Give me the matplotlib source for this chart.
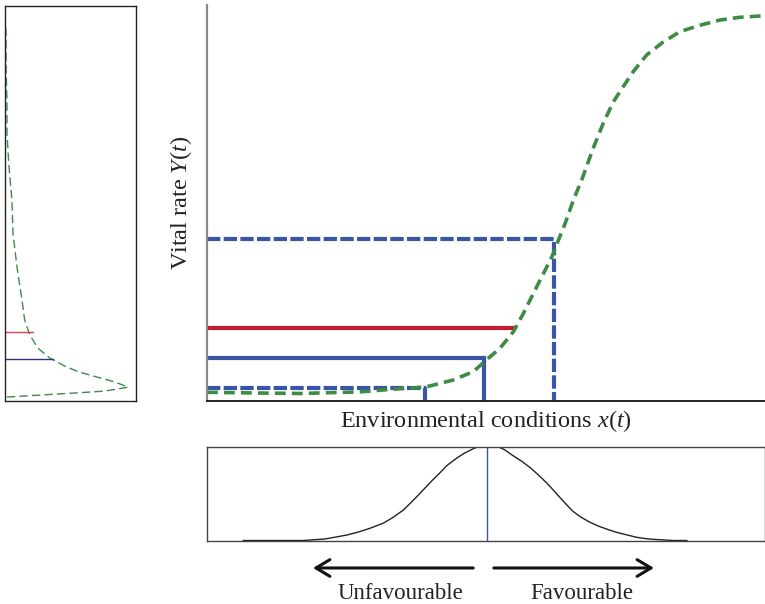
import numpy as np
import matplotlib.pyplot as plt

plt.rcParams['font.family'] = ['Liberation Serif', 'DejaVu Serif']
plt.rcParams['mathtext.fontset'] = 'custom'
plt.rcParams['mathtext.rm'] = 'Liberation Serif'
plt.rcParams['mathtext.it'] = 'Liberation Serif:italic'

# response curve: vital rate vs environment
env_x = [0.0, 1.0, 1.67, 2.2, 2.74, 3.0, 3.33, 3.6, 3.94, 4.41, 4.77, 5.01, 5.25,
         5.49, 5.67, 5.85, 6.03, 6.18, 6.30, 6.42, 6.56, 6.72, 6.92, 7.10, 7.28,
         7.46, 7.64, 7.88, 8.18, 8.48, 8.84, 9.19, 9.55, 10.0]
rate_y = [0.022, 0.020, 0.019, 0.021, 0.023, 0.026, 0.030, 0.032, 0.036, 0.053,
          0.074, 0.104, 0.133, 0.175, 0.221, 0.272, 0.322, 0.364, 0.407, 0.449,
          0.505, 0.560, 0.638, 0.701, 0.755, 0.794, 0.832, 0.874, 0.907, 0.933,
          0.949, 0.962, 0.969, 0.973]

# projections of three environments onto the curve
proj_env = [3.91, 4.96, 6.22]
proj_rate = [0.034, 0.108, 0.409]
proj_style = ['--', '-', '--']
mean_rate = 0.185
mean_rate_end = 5.48

# distribution of environment (bottom panel)
envdist_x = [0.65, 1.72, 2.11, 2.32, 2.51, 2.71, 2.92, 3.16, 3.33, 3.52, 3.69, 3.82,
             3.94, 4.06, 4.18, 4.30, 4.48, 4.59, 4.71, 4.77, 4.86, 5.22, 5.34, 5.48,
             5.64, 5.79, 5.94, 6.09, 6.21, 6.33, 6.45, 6.56, 6.69, 6.86, 7.01, 7.17,
             7.34, 7.53, 7.70, 7.89, 8.06, 8.35, 8.6]
envdist_y = [0.0, 0.0, 0.016, 0.038, 0.059, 0.090, 0.130, 0.185, 0.245, 0.325, 0.425,
             0.505, 0.580, 0.655, 0.725, 0.800, 0.880, 0.923, 0.960, 0.978, 1.0, 1.0,
             0.965, 0.906, 0.845, 0.778, 0.698, 0.613, 0.535, 0.455, 0.378, 0.310,
             0.253, 0.195, 0.155, 0.120, 0.087, 0.059, 0.034, 0.018, 0.010, 0.0, 0.0]
env_mean = 5.02

# distribution of vital rate (left panel)
ratedist_d = [0.015, 0.27, 0.52, 0.76, 0.94, 0.84, 0.73, 0.57, 0.47, 0.34, 0.25,
              0.19, 0.15, 0.13, 0.092, 0.061, 0.053, 0.031, 0.015, 0.015, 0.008,
              0.008, 0.0]
ratedist_y = [0.010, 0.015, 0.020, 0.025, 0.035, 0.048, 0.058, 0.073, 0.086, 0.109,
              0.134, 0.167, 0.205, 0.255, 0.338, 0.424, 0.508, 0.591, 0.677, 0.760,
              0.843, 0.929, 0.98]
ratedist_mean = 0.174
ratedist_median = 0.106

green = '#3d8b47'
blue = '#3a55a6'
red = '#be1e2d'

fig = plt.figure(figsize=(7.65, 6.04), dpi=100)

# main panel
ax = fig.add_axes([207/765, 203/604, 558/765, 396/604])
for x, y, ls in zip(proj_env, proj_rate, proj_style):
    line, = ax.plot([0, x, x], [y, y, 0], color=blue, lw=3, ls=ls, solid_joinstyle='miter')
    if ls == '--':
        line.set_dashes((3.2, 0.8))
ax.plot([0, mean_rate_end], [mean_rate, mean_rate], color=red, lw=3)
curve, = ax.plot(env_x, rate_y, color=green, lw=2.6, ls='--')
curve.set_dashes((3.0, 1.7))
ax.set_xlim(0, 10)
ax.set_ylim(0, 1)
ax.set_xticks([])
ax.set_yticks([])
for s in ['top', 'right']:
    ax.spines[s].set_visible(False)
ax.spines['left'].set_color('#8a8a8a')
ax.spines['left'].set_linewidth(1.6)
ax.spines['bottom'].set_color('#222222')
ax.spines['bottom'].set_linewidth(1.4)
ax.set_xlabel('Environmental conditions $x$($t$)', fontsize=17.5, labelpad=5, color='#222222')
ax.set_ylabel('Vital rate $Y$($t$)', fontsize=17.5, labelpad=9, color='#222222')

# bottom panel
axb = fig.add_axes([207/765, 63.5/604, 558/765, 93.8/604])
axb.plot(envdist_x, envdist_y, color='#222222', lw=1)
axb.plot([env_mean, env_mean], [0, 1], color=blue, lw=1)
axb.set_xlim(0, 10)
axb.set_ylim(0, 1)
axb.set_xticks([])
axb.set_yticks([])
for s in axb.spines.values():
    s.set_color('#444444')
    s.set_linewidth(1)

arrow = dict(arrowstyle='->,head_length=0.5,head_width=0.3', lw=2.2, color='#111111',
             mutation_scale=20, shrinkA=0, shrinkB=0)
axb.annotate('', xy=(1.90, -0.293), xytext=(4.77, -0.293), arrowprops=arrow,
             annotation_clip=False)
axb.annotate('', xy=(8.01, -0.293), xytext=(5.14, -0.293), arrowprops=arrow,
             annotation_clip=False)
axb.text(3.46, -0.56, 'Unfavourable', fontsize=16.5, ha='center', va='center',
         color='#222222')
axb.text(6.72, -0.56, 'Favourable', fontsize=16.5, ha='center', va='center',
         color='#222222')

# left panel
axl = fig.add_axes([5/765, 203/604, 131/765, 395/604])
dist, = axl.plot(ratedist_d, ratedist_y, color=green, lw=1, ls='--')
dist.set_dashes((6, 3))
axl.plot([0, 0.21], [ratedist_mean, ratedist_mean], color='#e04050', lw=1)
axl.plot([0, 0.37], [ratedist_median, ratedist_median], color='#33337a', lw=1)
axl.set_xlim(0, 1)
axl.set_ylim(0, 1)
axl.set_xticks([])
axl.set_yticks([])
for s in axl.spines.values():
    s.set_color('#222222')
    s.set_linewidth(1)

fig.savefig('out.png', dpi=100)
